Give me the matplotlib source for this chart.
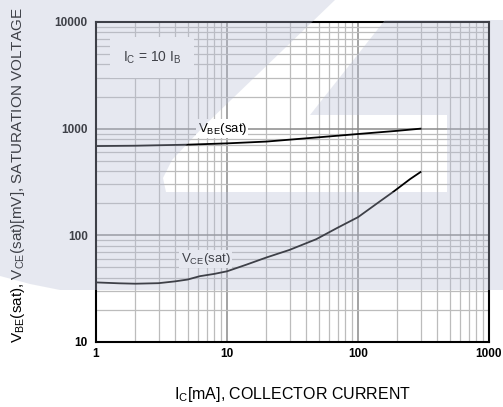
"""
VBE(sat) / VCE(sat) saturation voltage vs collector current (log-log).
"""

import matplotlib
matplotlib.use("Agg")
import matplotlib.pyplot as plt
from matplotlib.patches import Polygon
from matplotlib.ticker import LogLocator, NullFormatter

# ── data ─────────────────────────────────────────────────────────────────────
ic_vbe = [1, 2, 5, 10, 20, 50, 100, 200, 300]
vbe_sat = [687, 692, 708, 728, 757, 830, 891, 955, 1000]

ic_vce = [1, 1.5, 2, 3, 4, 5, 6.2, 8, 10, 14, 20, 30, 48, 70, 100, 150, 186, 250, 300]
vce_sat = [36.2, 35.5, 35.2, 35.6, 37, 38.5, 41.4, 43.5, 46, 53, 62, 73, 92, 118,
           148, 212, 256, 337, 392]

x_ticks = [1, 10, 100, 1000]
x_tick_labels = ["1", "10", "100", "1000"]
y_ticks = [10, 100, 1000, 10000]
y_tick_labels = ["10", "100", "1000", "10000"]

W, H = 503, 407

plt.rcParams.update({
    "font.family": "Liberation Sans",
    "mathtext.fontset": "custom",
    "mathtext.rm": "Liberation Sans",
})

fig = plt.figure(figsize=(W / 100, H / 100), dpi=100)
fig.patch.set_facecolor("white")
ax = fig.add_axes([96 / W, 1 - 342 / H, (489 - 96) / W, (342 - 22) / H])

ax.set_xscale("log")
ax.set_yscale("log")
ax.set_xlim(1, 1000)
ax.set_ylim(10, 10000)

ax.plot(ic_vbe, vbe_sat, color="black", lw=1.3, zorder=3)
ax.plot(ic_vce, vce_sat, color="black", lw=1.3, zorder=3)

# grid
ax.xaxis.set_minor_locator(LogLocator(base=10, subs=range(2, 10)))
ax.yaxis.set_minor_locator(LogLocator(base=10, subs=range(2, 10)))
ax.xaxis.set_minor_formatter(NullFormatter())
ax.yaxis.set_minor_formatter(NullFormatter())
ax.grid(True, which="minor", color="#bcbcbc", lw=0.9)
ax.grid(True, which="major", color="#8a8a8a", lw=1.1)
ax.set_axisbelow(True)

ax.set_xticks(x_ticks)
ax.set_xticklabels(x_tick_labels)
ax.set_yticks(y_ticks)
ax.set_yticklabels(y_tick_labels)
ax.tick_params(which="both", length=0)
ax.tick_params(axis="x", pad=4, labelsize=8.5)
ax.tick_params(axis="y", pad=6, labelsize=8.5)
for lbl in ax.get_xticklabels() + ax.get_yticklabels():
    lbl.set_fontweight("bold")

for side in ("top", "bottom", "left", "right"):
    ax.spines[side].set_color("black")
    ax.spines[side].set_linewidth(1.5)

ax.set_xlabel(r"$\mathregular{I_C}$[mA], COLLECTOR CURRENT", fontsize=11.5)
ax.xaxis.set_label_coords(0.5, -0.135)
ax.set_ylabel(r"$\mathregular{V_{BE}}$(sat), $\mathregular{V_{CE}}$(sat)[mV], SATURATION VOLTAGE",
              fontsize=11)
ax.yaxis.set_label_coords(-0.176, 0.522)

# annotations
ax.text(2.67, 4620, r"$\mathregular{I_C}$ = 10 $\mathregular{I_B}$", fontsize=10,
        ha="center", va="center", zorder=4,
        bbox=dict(boxstyle="square,pad=0.9", fc="white", ec="none"))
ax.text(9.2, 1000, r"$\mathregular{V_{BE}}$(sat)", fontsize=9.5,
        ha="center", va="center", zorder=4,
        bbox=dict(boxstyle="square,pad=0.1", fc="white", ec="none"))
ax.text(6.85, 60, r"$\mathregular{V_{CE}}$(sat)", fontsize=9.5,
        ha="center", va="center", zorder=4,
        bbox=dict(boxstyle="square,pad=0.1", fc="white", ec="none"))

# faint watermark laid over the chart (pixel coords, origin top-left)
def px(pts):
    return [(x / W, 1 - y / H) for x, y in pts]

swoosh = [(0, 0), (335, 0), (205, 125), (172, 160), (163, 178), (166, 192),
          (503, 192), (503, 290), (60, 290), (30, 284), (0, 276)]
arm = [(385, 20), (503, 20), (503, 192), (447, 192), (447, 115), (310, 115)]
for shape in (swoosh, arm):
    fig.patches.append(Polygon(px(shape), closed=True, transform=fig.transFigure,
                               fc="#b8bed4", ec="none", alpha=0.34, zorder=10))

fig.savefig("out.png", dpi=100)
